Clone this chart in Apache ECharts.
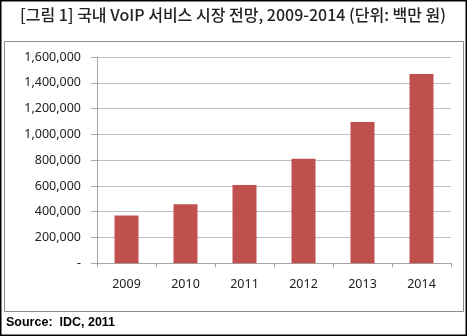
<!DOCTYPE html>
<html><head><meta charset="utf-8">
<script src="https://cdn.jsdelivr.net/npm/echarts@6/dist/echarts.min.js"></script>
<style>html,body{margin:0;padding:0;background:#fff}#c{width:467px;height:336px}</style>
</head><body><div id="c"></div>
<script>
const categories = ['2009','2010','2011','2012','2013','2014'];
const values = [370000, 458000, 608000, 810000, 1095000, 1468000];
const titleText = '[그림 1] 국내 VoIP 서비스 시장 전망, 2009-2014 (단위: 백만 원)';
const sourceText = 'Source:  IDC, 2011';

const chart = echarts.init(document.getElementById('c'), null, {renderer:'canvas'});
chart.setOption({
  animation:false,
  backgroundColor:'#fff',
  grid:{left:97, right:16, top:57, bottom:72.7},
  xAxis:{
    type:'category', data:categories,
    axisLine:{lineStyle:{color:'#a6a6a6'}},
    axisTick:{show:true, length:4, lineStyle:{color:'#a6a6a6'}},
    axisLabel:{color:'#222', fontSize:12.5, fontFamily:'"Noto Sans", sans-serif', margin:15}
  },
  yAxis:{
    type:'value', min:0, max:1600000, interval:200000,
    axisLine:{show:true, lineStyle:{color:'#a6a6a6'}},
    axisTick:{show:true, length:6, lineStyle:{color:'#a6a6a6'}},
    splitLine:{lineStyle:{color:'#c0c0c0'}},
    axisLabel:{color:'#222', fontSize:12.5, fontFamily:'"Noto Sans", sans-serif', margin:16,
      formatter:v => v===0 ? '-' : v.toLocaleString('en-US')}
  },
  series:[{type:'bar', data:values, barWidth:24, itemStyle:{color:'#c0504d'}}],
  graphic:[
    {type:'rect', shape:{x:0.5,y:0.5,width:466,height:335}, style:{fill:'none', stroke:'#000', lineWidth:2}, z:100},
    {type:'rect', shape:{x:4.5,y:41.5,width:459,height:270}, style:{fill:'none', stroke:'#8c8c8c', lineWidth:1}, z:100},
    {type:'text', left:20, top:7, style:{text:titleText, font:'500 16px "Noto Sans CJK KR", sans-serif', fill:'#222'}},
    {type:'text', left:6, top:316, style:{text:sourceText, font:'bold 12.5px "Liberation Sans", Arial, sans-serif', fill:'#000'}}
  ]
});
</script></body></html>
